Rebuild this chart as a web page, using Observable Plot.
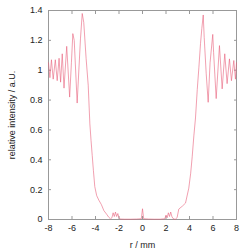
<!DOCTYPE html>
<html>
<head>
<meta charset="utf-8">
<script src="https://cdn.jsdelivr.net/npm/d3@7"></script>
<script src="https://cdn.jsdelivr.net/npm/@observablehq/plot@0.6"></script>
<style>
  html, body { margin: 0; padding: 0; background: #fff; }
  #chart { width: 250px; height: 250px; }
</style>
</head>
<body>
<div id="chart"></div>
<script>
// radius r (mm)
const rValues = [
  -8.00, -7.88, -7.75, -7.60, -7.42, -7.26, -7.10, -6.97, -6.83, -6.68,
  -6.45, -6.20, -6.05, -5.93, -5.81, -5.56, -5.28, -5.13, -5.00, -4.80,
  -4.62, -4.48, -4.38, -4.28, -4.18, -4.06, -3.90, -3.72, -3.50, -3.29,
  -3.05, -2.87, -2.72, -2.60, -2.50, -2.40, -2.30, -2.20, -2.10, -2.00,
  -1.90, -1.50, -1.00, -0.50, -0.10, 0.00, 0.10, 0.50, 1.00, 1.50,
  1.90, 2.00, 2.10, 2.20, 2.30, 2.40, 2.50, 2.60, 2.80, 2.95,
  3.09, 3.40, 3.66, 3.94, 4.10, 4.23, 4.37, 4.51, 4.66, 4.80,
  4.94, 5.05, 5.17, 5.25, 5.42, 5.59, 5.75, 5.98, 6.05, 6.27,
  6.55, 6.78, 7.00, 7.20, 7.40, 7.57, 7.77, 7.91, 8.00
];
// relative intensity (a.U.)
const intensity = [
  1.05, 0.95, 1.07, 0.94, 1.07, 0.93, 1.08, 0.92, 1.11, 0.88,
  1.16, 0.82, 1.05, 1.245, 1.20, 0.78, 1.21, 1.38, 1.32, 1.08,
  0.90, 0.64, 0.53, 0.43, 0.33, 0.22, 0.16, 0.13, 0.10, 0.06,
  0.035, 0.015, 0.004, 0.012, 0.045, 0.02, 0.05, 0.02, 0.04, 0.012,
  0.003, 0.002, 0.002, 0.003, 0.005, 0.072, 0.005, 0.003, 0.002, 0.002,
  0.005, 0.03, 0.012, 0.045, 0.02, 0.05, 0.02, 0.006, 0.0, 0.015,
  0.07, 0.09, 0.11, 0.21, 0.31, 0.42, 0.56, 0.68, 0.87, 1.02,
  1.18, 1.28, 1.37, 1.22, 0.98, 0.785, 1.05, 1.24, 1.12, 0.81,
  1.165, 0.875, 1.11, 0.91, 1.076, 0.93, 1.065, 0.94, 1.05
];
const xTicks = [-8, -6, -4, -2, 0, 2, 4, 6, 8];
const yTicks = [0, 0.2, 0.4, 0.6, 0.8, 1, 1.2, 1.4];
const xLabel = "r / mm";
const yLabel = "relative intensity / a.U.";

const data = rValues.map((r, i) => ({r, v: intensity[i]}));
const fmt = d => String(d);

const chart = Plot.plot({
  width: 250,
  height: 250,
  marginLeft: 48,
  marginRight: 14,
  marginTop: 10,
  marginBottom: 31,
  style: {fontFamily: "'Liberation Sans', Arial, sans-serif", fontSize: "9px", color: "#222", background: "#fff"},
  x: {domain: [-8, 8]},
  y: {domain: [0, 1.4]},
  marks: [
    Plot.frame({stroke: "#999", strokeWidth: 1}),
    Plot.axisX(xTicks, {anchor: "bottom", tickSize: -3, tickPadding: 8, tickFormat: fmt, stroke: "#999",
      label: xLabel, labelAnchor: "center", labelOffset: 28, labelArrow: "none"}),
    Plot.axisX(xTicks, {anchor: "top", tickSize: -3, tickFormat: () => "", stroke: "#999", label: null}),
    Plot.axisY(yTicks, {anchor: "left", tickSize: -3, tickPadding: 9, tickFormat: fmt, stroke: "#999",
      label: yLabel, labelAnchor: "center", labelOffset: 40, labelArrow: "none"}),
    Plot.axisY(yTicks, {anchor: "right", tickSize: -3, tickFormat: () => "", stroke: "#999", label: null}),
    Plot.line(data, {x: "r", y: "v", stroke: "#e8607a", strokeWidth: 0.6})
  ]
});
document.getElementById("chart").appendChild(chart);
</script>
</body>
</html>
